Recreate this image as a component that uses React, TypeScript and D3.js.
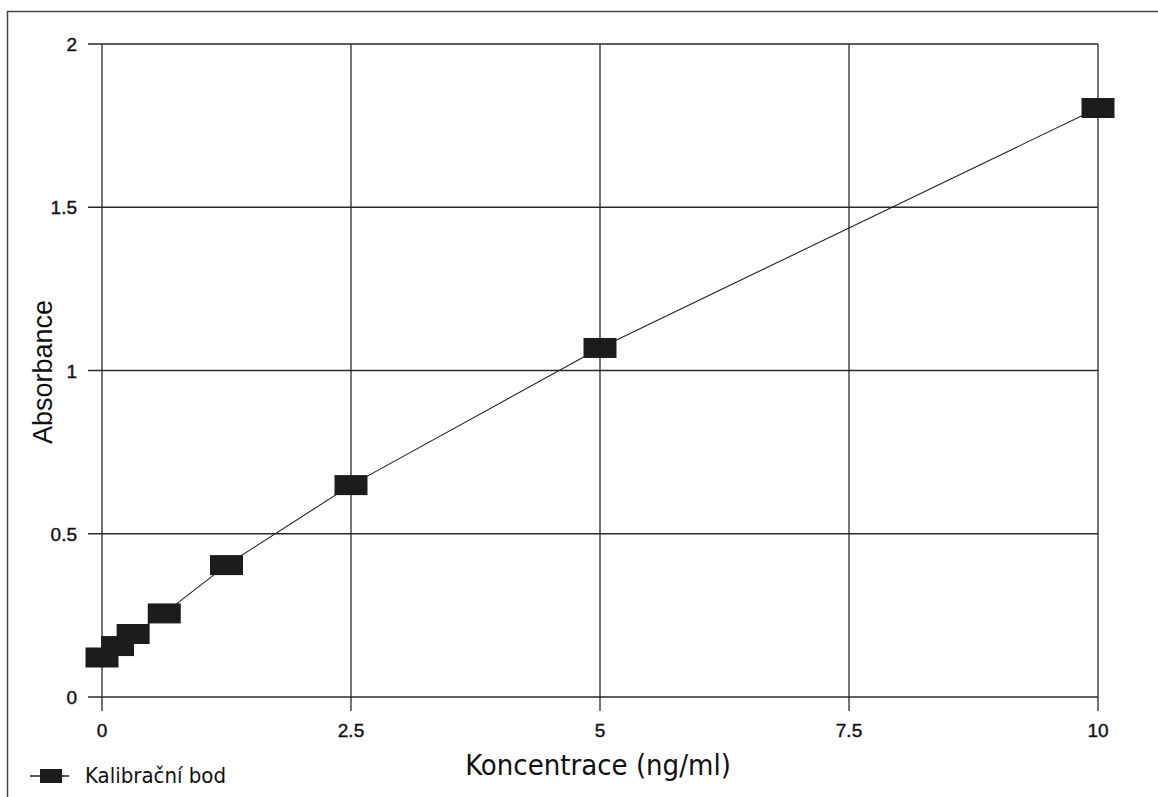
import React, { useEffect, useRef } from "react";
import * as d3 from "d3";

const concentrations = [0, 0.156, 0.3125, 0.625, 1.25, 2.5, 5, 10];
const absorbances = [0.121, 0.156, 0.193, 0.256, 0.404, 0.649, 1.069, 1.804];
const xTicks = [0, 2.5, 5, 7.5, 10];
const yTicks = [0, 0.5, 1, 1.5, 2];
const seriesName = "Kalibrační bod";
const xTitle = "Koncentrace (ng/ml)";
const yTitle = "Absorbance";

export default function App() {
    const svgRef = useRef<SVGSVGElement>(null);

    useEffect(() => {
        const svg = d3.select(svgRef.current);
        svg.selectAll("*").remove();
        const width = 1158;
        const height = 797;
        const arial = "'Liberation Sans', Arial, sans-serif";
        const tahoma = "'DejaVu Sans Condensed', 'DejaVu Sans', sans-serif";

        const x = d3.scaleLinear().domain([0, 10]).range([102, 1098]);
        const y = d3.scaleLinear().domain([0, 2]).range([697, 44]);

        svg.append("rect").attr("width", width).attr("height", height).attr("fill", "#fff");

        // outer frame
        svg.append("rect")
            .attr("x", 7.5).attr("y", 11.5)
            .attr("width", width + 10).attr("height", height + 10)
            .attr("fill", "none").attr("stroke", "#444").attr("stroke-width", 1.5);

        const grid = svg.append("g").attr("stroke", "#2a2a2a").attr("stroke-width", 1.3);
        grid.selectAll("line.h").data(yTicks).join("line")
            .attr("x1", 88).attr("x2", x(10))
            .attr("y1", (d) => y(d)).attr("y2", (d) => y(d));
        grid.selectAll("line.v").data(xTicks).join("line")
            .attr("x1", (d) => x(d)).attr("x2", (d) => x(d))
            .attr("y1", y(2)).attr("y2", 711);

        svg.append("g").selectAll("text").data(yTicks).join("text")
            .attr("x", 77).attr("y", (d) => y(d) + 7)
            .attr("text-anchor", "end").attr("font-family", arial).attr("font-size", 19)
            .attr("fill", "#111").attr("stroke", "#111").attr("stroke-width", 0.4)
            .text((d) => d3.format("~g")(d));

        svg.append("g").selectAll("text").data(xTicks).join("text")
            .attr("x", (d) => x(d)).attr("y", 737)
            .attr("text-anchor", "middle").attr("font-family", arial).attr("font-size", 19)
            .attr("fill", "#111").attr("stroke", "#111").attr("stroke-width", 0.4)
            .text((d) => d3.format("~g")(d));

        const line = d3.line<number>()
            .x((_, i) => x(concentrations[i]))
            .y((d) => y(d));
        svg.append("path").datum(absorbances)
            .attr("fill", "none").attr("stroke", "#222").attr("stroke-width", 1.1)
            .attr("d", line);

        const mw = 33;
        const mh = 20;
        svg.append("g").selectAll("rect").data(absorbances).join("rect")
            .attr("x", (_, i) => x(concentrations[i]) - mw / 2)
            .attr("y", (d) => y(d) - mh / 2)
            .attr("width", mw).attr("height", mh)
            .attr("fill", "#1c1c1c");

        svg.append("text")
            .attr("transform", `translate(52,372) rotate(-90)`)
            .attr("text-anchor", "middle").attr("font-family", arial).attr("font-size", 27)
            .attr("fill", "#111").text(yTitle);

        svg.append("text")
            .attr("x", 598).attr("y", 775)
            .attr("text-anchor", "middle").attr("font-family", tahoma).attr("font-size", 29)
            .attr("fill", "#111").text(xTitle);

        const legend = svg.append("g");
        legend.append("line").attr("x1", 30).attr("x2", 69).attr("y1", 776).attr("y2", 776)
            .attr("stroke", "#222").attr("stroke-width", 1.5);
        legend.append("rect").attr("x", 40).attr("y", 769).attr("width", 22).attr("height", 14)
            .attr("fill", "#1c1c1c");
        legend.append("text").attr("x", 85).attr("y", 783)
            .attr("font-family", tahoma).attr("font-size", 22).attr("fill", "#111").text(seriesName);
    }, []);

    return (
        <svg ref={svgRef} width={1158} height={797}
            style={{ position: "absolute", left: 0, top: 0, display: "block" }} />
    );
}
